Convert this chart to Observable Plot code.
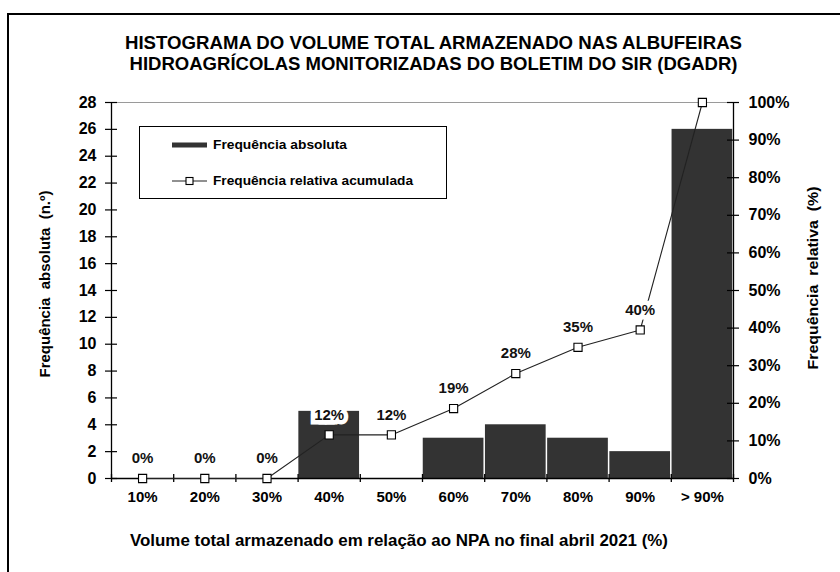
<!DOCTYPE html>
<html><head><meta charset="utf-8">
<script src="https://cdn.jsdelivr.net/npm/d3@7"></script>
<script src="https://cdn.jsdelivr.net/npm/@observablehq/plot@0.6"></script>
<style>
html,body{margin:0;padding:0;background:#fff;overflow:hidden;width:840px;height:572px;}
#chart{position:absolute;left:0;top:0;width:840px;height:572px;}
#frame{position:absolute;left:7px;top:13px;width:900px;height:700px;border-left:2px solid #000;border-top:2px solid #000;pointer-events:none;}
</style></head><body>
<div id="chart"></div><div id="frame"></div>
<script>
const categories = ["10%","20%","30%","40%","50%","60%","70%","80%","90%","> 90%"];
const counts = [0,0,0,5,0,3,4,3,2,26];
const cumulativePct = [0,0,0,11.6,11.6,18.6,27.9,34.9,39.5,100];
const cumulativeLabels = ["0%","0%","0%","12%","12%","19%","28%","35%","40%",""];
const countTicks = [0,2,4,6,8,10,12,14,16,18,20,22,24,26,28];
const pctTicks = [0,10,20,30,40,50,60,70,80,90,100];
const titleLines = ["HISTOGRAMA DO VOLUME TOTAL ARMAZENADO NAS ALBUFEIRAS","HIDROAGRÍCOLAS MONITORIZADAS DO BOLETIM DO SIR (DGADR)"];
const yTitleLeft = "Frequência\u00a0\u00a0absoluta\u00a0\u00a0(n.º)";
const yTitleRight = "Frequência\u00a0\u00a0relativa\u00a0\u00a0(%)";
const xTitle = "Volume total armazenado em relação ao NPA no final abril 2021 (%)";
const legendLabels = ["Frequência absoluta","Frequência relativa acumulada"];

const FONT = "'Liberation Sans', Arial, sans-serif";
const n = categories.length;
const yMax = countTicks[countTicks.length - 1];
const pctMax = pctTicks[pctTicks.length - 1];
const toY = p => p * yMax / pctMax;

const bins = categories.map((c, i) => ({c, i, x1: i, x2: i + 1, xm: i + 0.5, count: counts[i], pct: toY(cumulativePct[i]), label: cumulativeLabels[i]}));
const boundaries = d3.range(0, n + 1);
const rightTickVals = pctTicks.map(toY);

const plot = Plot.plot({
  width: 840, height: 572,
  marginTop: 102, marginBottom: 94, marginLeft: 111, marginRight: 107,
  style: {fontFamily: FONT, fontWeight: "bold", fontSize: "15px", color: "#000", background: "#fff", overflow: "visible"},
  x: {domain: [0, n]},
  y: {domain: [0, yMax]},
  marks: [
    Plot.rectY(bins, {x1: "x1", x2: "x2", y: "count", fill: "#333", insetLeft: 0.75, insetRight: 0.75}),
    Plot.ruleY([yMax], {stroke: "#9a9a9a", strokeWidth: 1}),
    Plot.ruleX([0, n], {stroke: "#000", strokeWidth: 1.3}),
    Plot.ruleY([0], {stroke: "#000", strokeWidth: 1.3}),
    Plot.ruleX(boundaries, {y1: 0, y2: 0, insetTop: -4, insetBottom: -4, stroke: "#000", strokeWidth: 1.3}),
    Plot.ruleY(countTicks, {x1: 0, x2: 0, insetLeft: -6, insetRight: -6, stroke: "#000", strokeWidth: 1.2}),
    Plot.ruleY(rightTickVals, {x1: n, x2: n, insetLeft: -6, insetRight: -6, stroke: "#000", strokeWidth: 1.2}),
    Plot.axisX(bins.map(d => d.xm), {tickSize: 0, tickPadding: 13, tickFormat: (d) => categories[Math.floor(d)], fontSize: 15, label: null}),
    Plot.axisY(countTicks, {anchor: "left", tickSize: 0, tickPadding: 15, fontSize: 16, label: null}),
    Plot.axisY(rightTickVals, {anchor: "right", tickSize: 0, tickPadding: 15, fontSize: 16, label: null, tickFormat: d => Math.round(d / yMax * pctMax) + "%"}),
    Plot.line(bins, {x: "xm", y: "pct", stroke: "#222", strokeWidth: 1.1}),
    Plot.text(bins.filter(d => d.label), {x: "xm", y: "pct", text: "label", dy: -20, fontSize: 15, fill: "#111", stroke: "white", strokeWidth: 9, strokeLinejoin: "miter"}),
    Plot.dot(bins, {x: "xm", y: "pct", symbol: "square", r: 4.6, fill: "white", stroke: "#000", strokeWidth: 1.1})
  ]
});

document.getElementById("chart").appendChild(plot);
const svg = d3.select(plot);

function addText(sel, t, opts) {
  const e = sel.append("text").attr("font-family", FONT).attr("font-weight", "bold").attr("fill", "#000")
    .attr("text-anchor", opts.anchor || "middle").attr("font-size", opts.size);
  if (opts.transform) e.attr("transform", opts.transform); else e.attr("x", opts.x).attr("y", opts.y);
  if (opts.dy) e.attr("dy", opts.dy);
  if (opts.len) e.attr("textLength", opts.len).attr("lengthAdjust", "spacingAndGlyphs");
  e.text(t);
  return e;
}

// Title
const tl = [[49, 617], [70, 608]];
titleLines.forEach((t, k) => addText(svg, t, {x: 433.5, y: tl[k][0], size: 18, len: tl[k][1]}));

// Axis titles
addText(svg, yTitleLeft, {transform: "translate(50,284) rotate(-90)", size: 15, len: 187});
addText(svg, yTitleRight, {transform: "translate(818,278) rotate(-90)", size: 15, len: 183});
addText(svg, xTitle, {x: 399, y: 546, size: 16, len: 538});

// Legend
const lg = svg.append("g");
lg.append("rect").attr("x", 139.5).attr("y", 126.5).attr("width", 307).attr("height", 72).attr("fill", "white").attr("stroke", "#000").attr("stroke-width", 1);
lg.append("line").attr("x1", 172).attr("x2", 207).attr("y1", 145).attr("y2", 145).attr("stroke", "#333").attr("stroke-width", 5);
lg.append("line").attr("x1", 172).attr("x2", 207).attr("y1", 181).attr("y2", 181).attr("stroke", "#222").attr("stroke-width", 1.1);
lg.append("rect").attr("x", 186).attr("y", 177.5).attr("width", 7).attr("height", 7).attr("fill", "white").attr("stroke", "#000").attr("stroke-width", 1.1);
legendLabels.forEach((t, k) => addText(lg, t, {x: 213, y: k ? 181 : 145, dy: "0.35em", size: 12, anchor: "start", len: k ? 200 : 134}));
</script>
</body></html>
